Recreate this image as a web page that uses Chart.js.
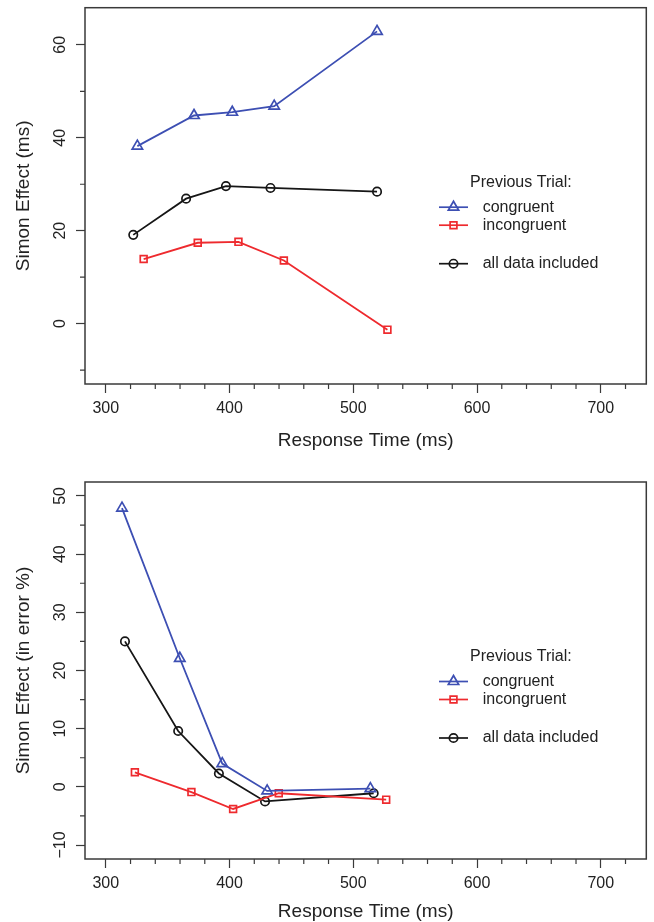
<!DOCTYPE html>
<html>
<head>
<meta charset="utf-8">
<script src="https://cdn.jsdelivr.net/npm/chart.js@4.4.1/dist/chart.umd.min.js"></script>
<style>
  html, body { margin: 0; padding: 0; background: #fff; }
  .panel { position: absolute; left: 0; width: 654px; }
  #topPanel { top: 0; height: 460px; }
  #botPanel { top: 460px; height: 462px; }
</style>
</head>
<body>
<div class="panel" id="topPanel"><canvas id="rtChart"></canvas></div>
<div class="panel" id="botPanel"><canvas id="errChart"></canvas></div>
<script>
// ---- data ----
const seriesNames = ['congruent', 'incongruent', 'all data included'];
const legendTitle = 'Previous Trial:';
const xTitle = 'Response Time (ms)';

// top panel: Simon effect in RT
const rtCongX = [325.5, 371.3, 402.2, 436.1, 519.2];
const rtCongY = [38.2, 44.8, 45.5, 46.8, 62.9];
const rtIncX  = [330.6, 374.3, 407.2, 443.9, 527.6];
const rtIncY  = [13.9, 17.4, 17.6, 13.6, -1.3];
const rtAllX  = [322.2, 364.9, 397.1, 433.1, 519.2];
const rtAllY  = [19.1, 26.9, 29.6, 29.2, 28.4];
const rtYTitle = 'Simon Effect (ms)';
const rtYMajor = [0, 20, 40, 60];
const rtYMinor = [-10, 10, 30, 50];

// bottom panel: Simon effect in errors
const errCongX = [313.1, 359.8, 394.1, 430.4, 513.8];
const errCongY = [47.9, 22.1, 4.0, -0.7, -0.3];
const errIncX  = [323.5, 369.2, 402.9, 439.8, 526.6];
const errIncY  = [2.5, -0.9, -3.8, -1.1, -2.2];
const errAllX  = [315.5, 358.5, 391.4, 428.7, 516.5];
const errAllY  = [25.0, 9.6, 2.3, -2.5, -1.1];
const errYTitle = 'Simon Effect (in error %)';
const errYMajor = [-10, 0, 10, 20, 30, 40, 50];
const errYMinor = [-5, 5, 15, 25, 35, 45];

const xMajor = [300, 400, 500, 600, 700];
const xMinor = [320, 340, 360, 380, 420, 440, 460, 480, 520, 540, 560, 580, 620, 640, 660, 680, 720];

// ---- styling ----
const FONT = "'Liberation Sans', Arial, Helvetica, sans-serif";
const INK = '#222';
const AXIS = '#3a3a3a';
const BLUE = '#3d4fb3', RED = '#ee2a2e', BLACK = '#161616';
const styles = [
  { color: BLUE, pointStyle: 'triangle', radius: 6 },
  { color: RED, pointStyle: 'rect', radius: 4.8 },
  { color: BLACK, pointStyle: 'circle', radius: 4.2 }
];

const pts = (xs, ys) => xs.map((v, i) => ({ x: v, y: ys[i] }));
const fmt = v => v < 0 ? '\u2212' + (-v) : String(v);

function makeDatasets(groups){
  return groups.map((g, i) => ({
    label: seriesNames[i],
    data: pts(g[0], g[1]),
    showLine: true,
    borderColor: styles[i].color,
    borderWidth: 1.8,
    pointStyle: styles[i].pointStyle,
    pointRadius: styles[i].radius,
    pointBorderWidth: 1.7,
    pointBorderColor: styles[i].color,
    pointBackgroundColor: 'rgba(0,0,0,0)',
    tension: 0
  }));
}

// R-like frame: box, short minor ticks, rotated y labels, legend inside
const rFrame = {
  id: 'rFrame',
  afterDraw(chart, args, o){
    const { ctx, chartArea: a, scales: { x, y } } = chart;
    ctx.save();
    ctx.strokeStyle = AXIS; ctx.lineWidth = 1.5;
    ctx.strokeRect(a.left, a.top, a.right - a.left, a.bottom - a.top);

    ctx.lineWidth = 1.2; ctx.beginPath();
    xMinor.forEach(v => { const px = x.getPixelForValue(v); ctx.moveTo(px, a.bottom); ctx.lineTo(px, a.bottom + 5); });
    o.yMinor.forEach(v => { const py = y.getPixelForValue(v); ctx.moveTo(a.left, py); ctx.lineTo(a.left - 5, py); });
    ctx.stroke();

    ctx.fillStyle = INK; ctx.font = `16px ${FONT}`;
    ctx.textAlign = 'center'; ctx.textBaseline = 'middle';
    o.yMajor.forEach(v => {
      const py = y.getPixelForValue(v);
      ctx.save(); ctx.translate(a.left - 24, py); ctx.rotate(-Math.PI / 2);
      ctx.fillText(fmt(v), 0, 0); ctx.restore();
    });

    // legend
    const lx = a.left + 354, ly = a.top;
    ctx.textAlign = 'left';
    ctx.fillText(legendTitle, a.left + 385, ly + 174.5);
    const rowY = [199.5, 217.5, 256];
    chart.data.datasets.forEach((ds, i) => {
      const yy = ly + rowY[i];
      ctx.strokeStyle = ds.borderColor; ctx.lineWidth = 1.7;
      ctx.beginPath(); ctx.moveTo(lx, yy); ctx.lineTo(lx + 29, yy); ctx.stroke();
      ctx.fillStyle = 'rgba(0,0,0,0)';
      Chart.helpers.drawPoint(ctx, { pointStyle: ds.pointStyle, radius: ds.pointRadius, rotation: 0, borderWidth: 1.7 }, lx + 14.5, yy);
      ctx.fillStyle = INK;
      ctx.fillText(ds.label, a.left + 397.7, yy);
    });
    ctx.restore();
  }
};

function makeChart(id, groups, cfg){
  return new Chart(document.getElementById(id), {
    type: 'scatter',
    data: { datasets: makeDatasets(groups) },
    options: {
      responsive: true, maintainAspectRatio: false, animation: false,
      layout: { padding: { left: 0, right: 6.5, top: cfg.padTop, bottom: 0 } },
      plugins: { legend: { display: false }, tooltip: { enabled: false },
        rFrame: { yMajor: cfg.yMajor, yMinor: cfg.yMinor } },
      scales: {
        x: {
          type: 'linear', min: 283.2, max: 736.8,
          afterBuildTicks: s => { s.ticks = xMajor.map(v => ({ value: v })); },
          afterFit: s => { s.height = cfg.xHeight; },
          border: { display: false },
          grid: { drawOnChartArea: false, tickLength: 9, tickColor: AXIS, tickWidth: 1.2 },
          ticks: { padding: 8, color: INK, font: { family: FONT, size: 16, lineHeight: 1 }, maxRotation: 0, autoSkip: false },
          title: { display: true, text: xTitle, color: INK, font: { family: FONT, size: 19, lineHeight: 1 },
                   padding: { top: 0, bottom: cfg.xTitlePad } }
        },
        y: {
          type: 'linear', min: cfg.yMin, max: cfg.yMax,
          afterBuildTicks: s => { s.ticks = cfg.yMajor.map(v => ({ value: v })); },
          afterFit: s => { s.width = 85; },
          border: { display: false },
          grid: { drawOnChartArea: false, tickLength: 9, tickColor: AXIS, tickWidth: 1.2 },
          ticks: { display: false },
          title: { display: true, text: cfg.yTitle, color: INK, font: { family: FONT, size: 19, lineHeight: 1 },
                   padding: { top: 14.5, bottom: 0 } }
        }
      }
    },
    plugins: [rFrame]
  });
}

makeChart('rtChart', [[rtCongX, rtCongY], [rtIncX, rtIncY], [rtAllX, rtAllY]], {
  padTop: 7.5, xHeight: 76, xTitlePad: 9.5, yMin: -13, yMax: 68,
  yMajor: rtYMajor, yMinor: rtYMinor, yTitle: rtYTitle
});
makeChart('errChart', [[errCongX, errCongY], [errIncX, errIncY], [errAllX, errAllY]], {
  padTop: 22, xHeight: 63, xTitlePad: 0.5, yMin: -12.4, yMax: 52.4,
  yMajor: errYMajor, yMinor: errYMinor, yTitle: errYTitle
});
</script>
</body>
</html>
